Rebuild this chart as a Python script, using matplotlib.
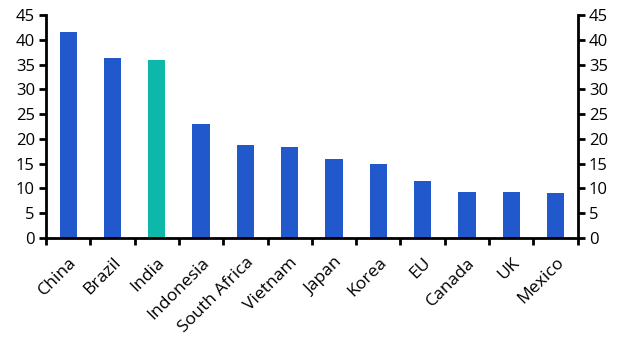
import matplotlib
matplotlib.use("Agg")
import matplotlib.pyplot as plt
import numpy as np

categories = ["China", "Brazil", "India", "Indonesia", "South Africa", "Vietnam",
              "Japan", "Korea", "EU", "Canada", "UK", "Mexico"]
values = [41.6, 36.4, 35.9, 23.0, 18.7, 18.3, 15.9, 14.9, 11.5, 9.3, 9.3, 9.1]
highlight = "India"
yticks = list(range(0, 50, 5))

plt.rcParams['font.family'] = ['Open Sans', 'DejaVu Sans']

blue = "#2159CC"
teal = "#0DB8AA"
colors = [teal if c == highlight else blue for c in categories]

fig = plt.figure(figsize=(6.29, 3.57), dpi=100)
ax = fig.add_axes([46/629, 1-238/357, (577.7-46)/629, (238-15)/357])
x = np.arange(len(categories))
ax.bar(x, values, width=0.39, color=colors, zorder=2)
ax.set_xlim(-0.5, len(categories)-0.5)
ax.set_ylim(0, 45)
ax.set_yticks(yticks)
ax.set_yticklabels([str(t) for t in yticks], fontsize=12)

ax.set_xticks(x)
ax.set_xticklabels(categories, rotation=45, ha='right', rotation_mode='anchor', fontsize=12.6)
ax.tick_params(axis='x', length=0, pad=12)
ax.set_xticks(np.arange(-0.5, len(categories)), minor=True)
ax.tick_params(axis='x', which='minor', length=5, width=2, direction='out')

ax.tick_params(axis='y', length=5, width=2, direction='out', pad=3)
for s in ['top', 'right']:
    ax.spines[s].set_visible(False)
for s in ['left', 'bottom']:
    ax.spines[s].set_linewidth(2)

ax2 = ax.twinx()
ax2.set_ylim(0, 45)
ax2.set_yticks(yticks)
ax2.set_yticklabels([str(t) for t in yticks], fontsize=12)
ax2.tick_params(axis='y', length=5, width=2, direction='out', pad=3)
for s in ['top', 'left', 'bottom']:
    ax2.spines[s].set_visible(False)
ax2.spines['right'].set_linewidth(2)

fig.savefig("out.png", dpi=100)
